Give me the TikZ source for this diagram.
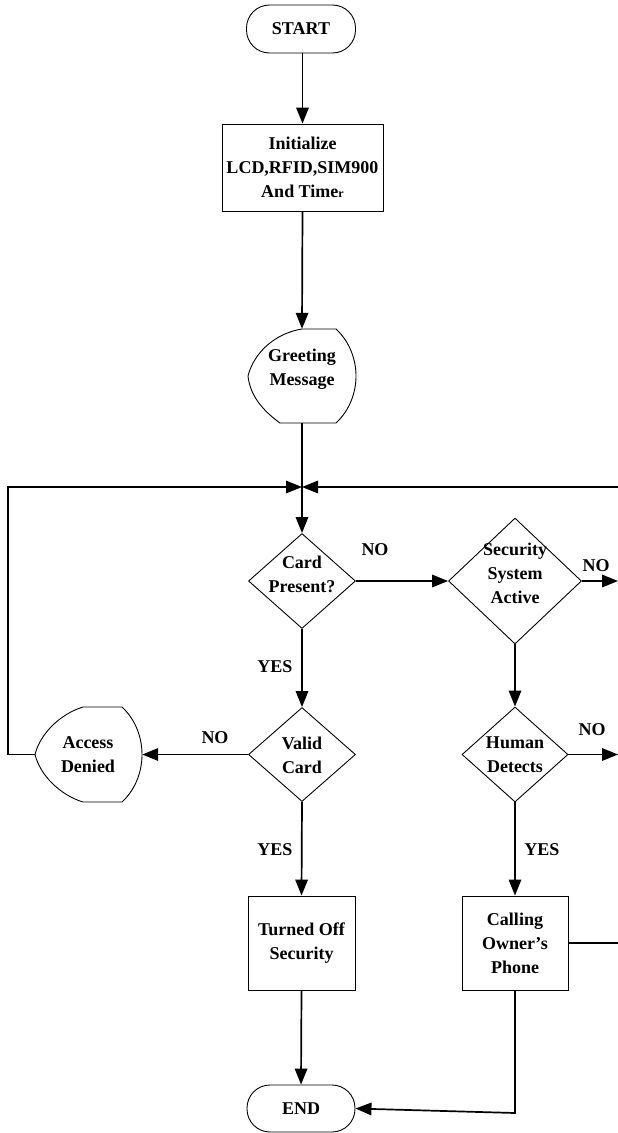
\documentclass[tikz,border=0pt]{standalone}
\usepackage{fontspec}
\setmainfont{Liberation Serif}
\usetikzlibrary{shapes.geometric,arrows.meta}
\begin{document}
\begin{tikzpicture}[x=1pt,y=-1pt,
  every node/.style={font=\fontsize{18}{24}\selectfont\bfseries, inner sep=0pt, align=center},
  outline/.style={draw, line width=0.9pt},
  procbox/.style={outline},
  termbox/.style={outline, rounded corners=23pt},
  decbox/.style={outline, diamond},
  conn/.style={line width=1.7pt, -{Triangle[length=16pt,width=12.5pt]}}]
\useasboundingbox (0,0) rectangle (618,1133);
\clip (0,0) rectangle (618,1133);

% nodes
\node[termbox, minimum width=109pt, minimum height=48pt] (start) at (301,29) {START};
\node[procbox, minimum width=161pt, minimum height=87pt] (init) at (302.5,167.5)
  {Initialize\\LCD,RFID,SIM900\\And Time{\fontsize{12}{12}\selectfont r}};

\node[minimum width=108pt, minimum height=94pt] (gm) at (302,376) {};
\draw[outline] (302,329) -- (336,329)
  .. controls (350,342) and (356,360) .. (356,376)
  .. controls (356,392) and (350,410) .. (336,423) -- (280,423)
  .. controls (262,410) and (250,395) .. (248,376)
  .. controls (254,352) and (276,333) .. (302,329) -- cycle;
\node (gmt) at (302,369) {Greeting\\Message};

\node[decbox, minimum width=107pt, minimum height=95pt] (cp) at (302,581) {};
\node (cpt) at (302,574) {Card\\Present?};

\node[decbox, minimum width=133pt, minimum height=126pt] (sec) at (515,581) {};
\node (sect) at (515,573) {Security\\System\\Active};

\node[decbox, minimum width=107pt, minimum height=94pt] (vc) at (302,754.5) {};
\node (vct) at (302,755) {Valid\\Card};

\node[decbox, minimum width=106pt, minimum height=95pt] (hd) at (515,754.5) {};
\node (hdt) at (515,755) {Human\\Detects};

\node[minimum width=107pt, minimum height=95pt] (ad) at (88.5,754.5) {};
\draw[outline] (83,707) -- (122,707)
  .. controls (136,720) and (142,738) .. (142,754.5)
  .. controls (142,771) and (136,789) .. (122,802) -- (83,802)
  .. controls (60,795) and (40,775) .. (35,754.5)
  .. controls (40,734) and (60,714) .. (83,707) -- cycle;
\node (adt) at (88,755) {Access\\Denied};

\node[procbox, minimum width=107pt, minimum height=94pt] (tos) at (301.5,943) {Turned Off\\Security};
\node[procbox, minimum width=106pt, minimum height=94pt] (call) at (515,943) {Calling\\Owner’s\\Phone};

\node[termbox, minimum width=108pt, minimum height=47pt] (end) at (301,1108.5) {END};

% coordinates
\coordinate (j) at (302,487);
\coordinate (lb) at (8,754.5);
\coordinate (lt) at (8,487);
\coordinate (rb) at (624,943);
\coordinate (rt) at (624,487);
\coordinate (e1) at (618,581);
\coordinate (e2) at (618,754.5);
\coordinate (cb) at (515,1113);

% connectors
\draw[conn] (init.north |- start.south) -- (init.north);
\draw[conn] (init.south) -- (gm.north);
\draw[conn] (gm.south) -- (cp.north);
\draw[conn] (ad.west) -- (lb) -- (lt) -- (j);
\draw[conn] (call.east) -- (rb) -- (rt) -- (j);
\draw[conn] (cp.east) -- (sec.west);
\draw[conn] (sec.east) -- (e1);
\draw[conn] (cp.south) -- (vc.north);
\draw[conn] (vc.west) -- (ad.east);
\draw[conn] (vc.south) -- (tos.north);
\draw[conn] (sec.south) -- (hd.north);
\draw[conn] (hd.east) -- (e2);
\draw[conn] (hd.south) -- (call.north);
\draw[conn] (tos.south) -- (end.north);
\draw[conn] (call.south) -- (cb) -- (end.east);

% labels
\node (l1) at (375,550) {NO};
\node (l2) at (596,566) {NO};
\node (l3) at (275,667) {YES};
\node (l4) at (215,738) {NO};
\node (l5) at (592,730) {NO};
\node (l6) at (275,850) {YES};
\node (l7) at (542,850) {YES};
\end{tikzpicture}
\end{document}
